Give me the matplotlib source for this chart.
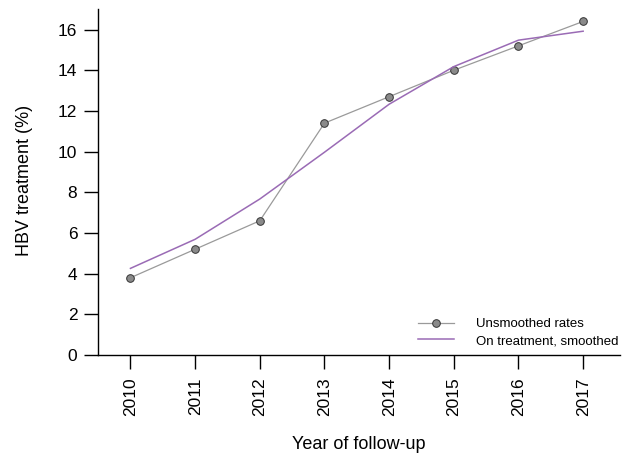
import matplotlib
matplotlib.use('Agg')
import matplotlib.pyplot as plt

plt.rcParams['font.family'] = ['Liberation Sans', 'DejaVu Sans']

years = [2010, 2011, 2012, 2013, 2014, 2015, 2016, 2017]
unsmoothed = [3.8, 5.2, 6.6, 11.4, 12.7, 14.0, 15.2, 16.4]
smoothed = [4.26, 5.69, 7.67, 9.97, 12.33, 14.18, 15.48, 15.92]
yticks = [0, 2, 4, 6, 8, 10, 12, 14, 16]

fig = plt.figure(figsize=(6.25, 4.54), dpi=100)
ax = fig.add_axes([0.157, 0.218, 0.835, 0.763])

# unsmoothed rates with markers
ax.plot(years, unsmoothed, color='#9a9a9a', lw=0.9,
        marker='o', ms=5.5, mfc='#8a8a8a', mec='#333333', mew=0.7,
        label='Unsmoothed rates')
# smoothed curve
ax.plot(years, smoothed, color='#9a6bb5', lw=1.1,
        label='On treatment, smoothed')

ax.set_xlim(2009.5, 2017.57)
ax.set_ylim(0, 17.03)
ax.set_xticks(years)
ax.set_xticklabels([str(y) for y in years], rotation=90)
ax.set_yticks(yticks)

for s in ['top', 'right']:
    ax.spines[s].set_visible(False)
for s in ['left', 'bottom']:
    ax.spines[s].set_linewidth(1.0)
ax.tick_params(direction='out', length=10, width=1.0, labelsize=12.5)
ax.tick_params(axis='x', pad=6)
ax.tick_params(axis='y', pad=5)

ax.set_xlabel('Year of follow-up', fontsize=13)
ax.set_ylabel('HBV treatment (%)', fontsize=13)
ax.xaxis.set_label_coords(0.5, -0.235)
ax.yaxis.set_label_coords(-0.125, 0.505)

ax.legend(loc='lower right', bbox_to_anchor=(1.0115, 0.0), frameon=False,
          fontsize=9.5, handlelength=2.8, handletextpad=1.6,
          borderaxespad=0.2, labelspacing=0.35)

fig.savefig('out.png', dpi=100)
